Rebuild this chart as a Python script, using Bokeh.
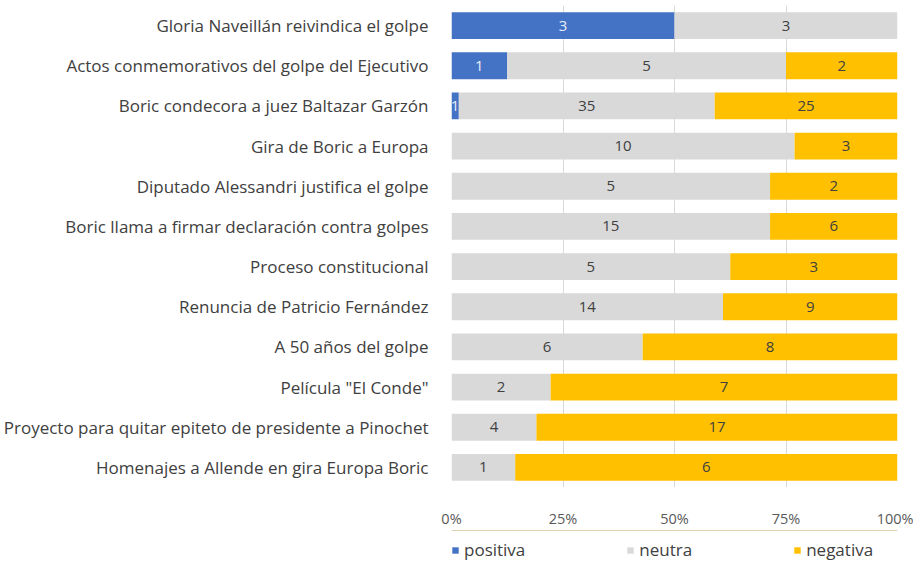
import numpy as np
from bokeh.plotting import figure
from bokeh.layouts import column
from bokeh.models import ColumnDataSource, FactorRange, Legend, LegendItem, NumeralTickFormatter, FixedTicker
from bokeh.core.properties import value
from bokeh.embed import file_html
from bokeh.resources import INLINE

categories = [
    "Gloria Naveillán reivindica el golpe",
    "Actos conmemorativos del golpe del Ejecutivo",
    "Boric condecora a juez Baltazar Garzón",
    "Gira de Boric a Europa",
    "Diputado Alessandri justifica el golpe",
    "Boric llama a firmar declaración contra golpes",
    "Proceso constitucional",
    "Renuncia de Patricio Fernández",
    "A 50 años del golpe",
    "Película \"El Conde\"",
    "Proyecto para quitar epiteto de presidente a Pinochet",
    "Homenajes a Allende en gira Europa Boric",
]
positiva = [3, 1, 1, 0, 0, 0, 0, 0, 0, 0, 0, 0]
neutra = [3, 5, 35, 10, 5, 15, 5, 14, 6, 2, 4, 1]
negativa = [0, 2, 25, 3, 2, 6, 3, 9, 8, 7, 17, 6]
series_names = ["positiva", "neutra", "negativa"]
colors = ["#4472C4", "#D9D9D9", "#FFC000"]
label_colors = ["#E8EEF8", "#404040", "#404040"]
x_ticks = [0, 0.25, 0.5, 0.75, 1.0]

FONT = "Open Sans"

vals = np.array([positiva, neutra, negativa], dtype=float)
totals = vals.sum(axis=0)
fracs = vals / totals
lefts = np.vstack([np.zeros(len(categories)), np.cumsum(fracs, axis=0)[:-1]])
rights = lefts + fracs

p = figure(
    width=913, height=530,
    y_range=FactorRange(factors=list(reversed(categories)), range_padding=0),
    x_range=(0, 1),
    output_backend="svg", toolbar_location=None,
    min_border_left=449, min_border_right=16, min_border_top=5, min_border_bottom=40,
)
p.outline_line_color = None

for k in range(3):
    src = ColumnDataSource(dict(
        y=categories, left=lefts[k], right=rights[k],
        mid=(lefts[k] + rights[k]) / 2,
        lab=[str(int(v)) if v > 0 else "" for v in vals[k]],
    ))
    p.hbar(y="y", left="left", right="right", height=0.67, source=src,
           fill_color=colors[k], line_color=None)
    p.text(x="mid", y="y", text="lab", source=src, text_align="center",
           text_baseline="middle", text_font=value(FONT), text_font_size="15px",
           text_color=label_colors[k])

p.xaxis.ticker = FixedTicker(ticks=x_ticks)
p.xaxis.formatter = NumeralTickFormatter(format="0%")
for ax in (p.xaxis[0], p.yaxis[0]):
    ax.axis_line_color = None
    ax.major_tick_line_color = None
    ax.minor_tick_line_color = None
    ax.major_label_text_font = FONT
    ax.major_label_text_color = "#404040"
p.xaxis.major_label_text_font_size = "14.5px"
p.yaxis.major_label_text_font_size = "17px"
p.xaxis.major_label_standoff = 15
p.yaxis.major_label_standoff = 17
p.xaxis.major_label_text_color = "#595959"

p.xgrid.grid_line_color = "#D9D9D9"
p.ygrid.grid_line_color = None

# legend strip below the chart (swatch renderers lie outside the strip's visible range)
pl = figure(width=913, height=31, x_range=(0, 1), y_range=(0, 1),
            output_backend="svg", toolbar_location=None,
            x_axis_type=None, y_axis_type=None,
            min_border_left=377, min_border_right=0, min_border_top=0, min_border_bottom=0)
pl.outline_line_color = None
pl.xgrid.grid_line_color = None
pl.ygrid.grid_line_color = None
swatches = [pl.hbar(y=[5], left=[0], right=[1], height=0.5,
                    fill_color=colors[k], line_color=None)
            for k in range(3)]
lg = Legend(items=[LegendItem(label=series_names[k], renderers=[swatches[k]]) for k in range(3)],
            location="bottom_left", orientation="horizontal",
            background_fill_alpha=0, border_line_color=None,
            label_text_font=FONT, label_text_font_size="17px",
            label_text_color="#404040", glyph_width=8, glyph_height=8,
            padding=0, margin=0, label_standoff=5, spacing=101)
pl.add_layout(lg, "center")

layout = column(p, pl, spacing=0)
open("out.html", "w").write(file_html(layout, INLINE))
